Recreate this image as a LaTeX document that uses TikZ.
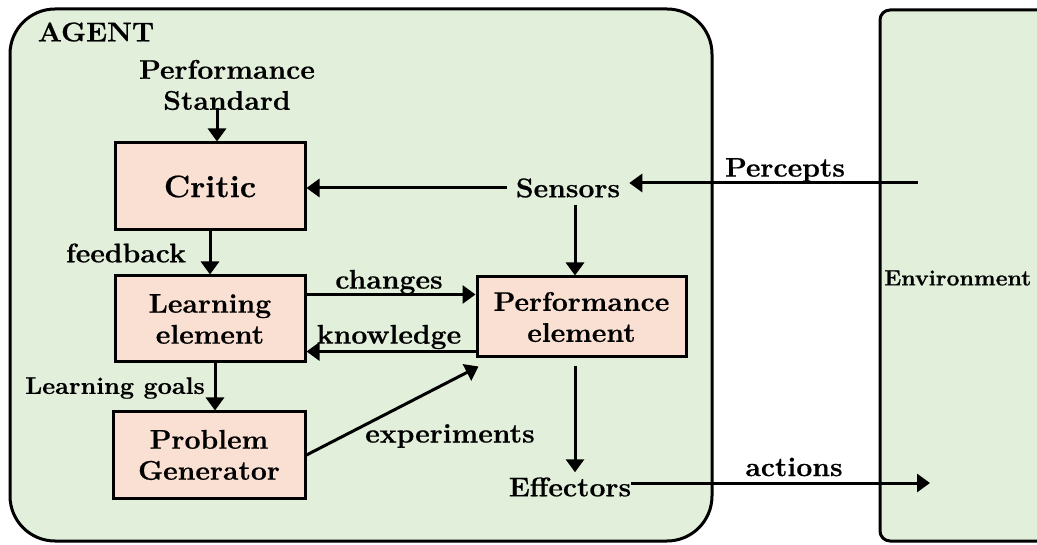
\documentclass[tikz,border=0pt]{standalone}
\usepackage{fontspec}
\setmainfont{Latin Modern Roman}[FakeStretch=1.05, BoldFeatures={FakeBold=0.6}]
\usetikzlibrary{arrows.meta}
\definecolor{agentgreen}{RGB}{226,239,218}
\definecolor{boxpeach}{RGB}{249,224,210}
\begin{document}
\begin{tikzpicture}[x=1pt,y=-1pt,
  lbl/.style={font=\bfseries\fontsize{27}{31}\selectfont, inner sep=0pt, align=center},
  unit/.style={draw, line width=3pt, fill=boxpeach, lbl},
  link/.style={line width=3pt, -{Triangle[length=13pt,width=18pt]}}]
\useasboundingbox (0,0) rectangle (1037,545);
\fill[white] (0,0) rectangle (1037,545);
% agent and environment frames
\draw[line width=3pt, fill=agentgreen, rounded corners=45pt] (10,9) rectangle (712,541);
\draw[line width=3pt, fill=agentgreen, rounded corners=10pt] (880,10) rectangle (1090,541);

% components
\node[lbl] (agent) at (96,32) {AGENT};
\node[lbl] (std) at (227,85) {Performance\\Standard};
\node[unit, minimum width=190pt, minimum height=87pt, font=\bfseries\fontsize{31}{36}\selectfont] (critic) at (210,186.5) {Critic};
\node[unit, minimum width=190pt, minimum height=86pt] (learn) at (210,319) {Learning\\element};
\node[unit, minimum width=192pt, minimum height=86pt] (prob) at (209,455) {Problem\\Generator};
\node[unit, minimum width=209pt, minimum height=80pt] (perf) at (581.5,317) {Performance\\element};
\node[lbl, inner xsep=9pt] (sens) at (568,188) {Sensors};
\node[lbl] (eff) at (570,487) {Effectors};
\node[lbl, anchor=west, font=\bfseries\fontsize{22}{26}\selectfont] (envt) at (884,278) {Environment};

% free ends of connectors
\coordinate (stdfoot) at (217,108);
\coordinate (pin) at (918,183);
\coordinate (sdrop) at (575,205);
\coordinate (pdrop) at (575,366);
\coordinate (aout) at (930,483);
\coordinate (goalx) at (215,0);

% connectors
\draw[link] (stdfoot) -- (stdfoot |- critic.north);
\draw[link] (sens.west) -- (sens.west -| critic.east);
\draw[link] (pin) -- (pin -| sens.east);
\draw[link] (sdrop) -- (sdrop |- perf.north);
\draw[link] (critic.south) -- (learn.north);
\draw[link] (goalx |- learn.south) -- (goalx |- prob.north);
\draw[link] ([yshift=-20pt]learn.north east) -- ([yshift=-20pt]learn.north east -| perf.west);
\draw[link] ([yshift=7pt]perf.south west) -- ([yshift=7pt]perf.south west -| learn.east);
\draw[link] (prob.east) -- ([xshift=3pt,yshift=-8pt]perf.south west);
\draw[link] (pdrop) -- ([yshift=5pt]pdrop |- eff.north);
\draw[link] (eff.east |- aout) -- (aout);

% connector labels
\node[lbl] (lp) at (785,170) {Percepts};
\node[lbl] (lfb) at (126,253) {feedback};
\node[lbl] (lch) at (389,282) {changes};
\node[lbl] (lkn) at (389,337) {knowledge};
\node[lbl, font=\bfseries\fontsize{24}{28}\selectfont] (lgo) at (115,388) {Learning goals};
\node[lbl] (lex) at (450,436) {experiments};
\node[lbl] (lac) at (794,467) {actions};
\end{tikzpicture}
\end{document}
